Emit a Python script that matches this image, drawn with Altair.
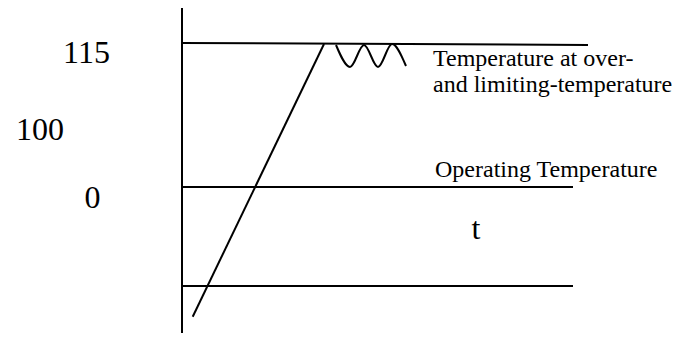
import altair as alt
import pandas as pd

# Diagram units: x = time to the right of the vertical axis, y = level above the bottom line.
# Straight segments of the sketch
seg_name = ["axis", "limit", "operating", "base", "ramp"]
seg_x = [0, 0, 0, 0, 10.7]
seg_y = [279, 243, 99, 0, -30.7]
seg_x2 = [0, 406, 391, 391, 142]
seg_y2 = [-54, 241, 99, 0, 242]

# Oscillation around the over-temperature limit (peaks and troughs)
wave_x = [154, 168, 182, 196, 210, 224]
wave_y = [241, 219, 241, 219, 242, 220]

# Level labels on the left and the time label
label_text = ["115", "100", "0", "t"]
label_x = [-95.5, -142, -89.5, 294]
label_y = [223, 146, 78, 47]

# Annotations
note_text = ["Temperature at over-", "and limiting-temperature", "Operating Temperature"]
note_x = [251, 251, 253]
note_y = [220, 194, 109]

segs = pd.DataFrame({"name": seg_name, "x": seg_x, "y": seg_y, "x2": seg_x2, "y2": seg_y2})
wave = pd.DataFrame({"x": wave_x, "y": wave_y})
labels = pd.DataFrame({"text": label_text, "x": label_x, "y": label_y})
notes = pd.DataFrame({"text": note_text, "x": note_x, "y": note_y})

xs = alt.Scale(domain=[-174, 495], nice=False, zero=False)
ys = alt.Scale(domain=[-47, 278], nice=False, zero=False)

rules = alt.Chart(segs).mark_rule(color="black", strokeWidth=2).encode(
    x=alt.X("x:Q", scale=xs, axis=None),
    y=alt.Y("y:Q", scale=ys, axis=None),
    x2="x2:Q",
    y2="y2:Q",
)

wave_line = alt.Chart(wave).mark_line(color="black", strokeWidth=2, interpolate="monotone").encode(
    x=alt.X("x:Q", scale=xs, axis=None),
    y=alt.Y("y:Q", scale=ys, axis=None),
    order="x:Q",
)

label_layer = alt.Chart(labels).mark_text(
    font="Liberation Serif", fontSize=32, align="center", baseline="alphabetic", color="black"
).encode(
    x=alt.X("x:Q", scale=xs, axis=None),
    y=alt.Y("y:Q", scale=ys, axis=None),
    text="text:N",
)

note_layer = alt.Chart(notes).mark_text(
    font="Liberation Serif", fontSize=24, align="left", baseline="alphabetic", color="black"
).encode(
    x=alt.X("x:Q", scale=xs, axis=None),
    y=alt.Y("y:Q", scale=ys, axis=None),
    text="text:N",
)

chart = alt.layer(rules, wave_line, label_layer, note_layer).properties(
    width=669,
    height=325,
    padding=0,
    autosize=alt.AutoSizeParams(type="none"),
    background="white",
).configure_view(stroke=None)

chart.save("out.html", embed_options={"renderer": "svg", "actions": False})
